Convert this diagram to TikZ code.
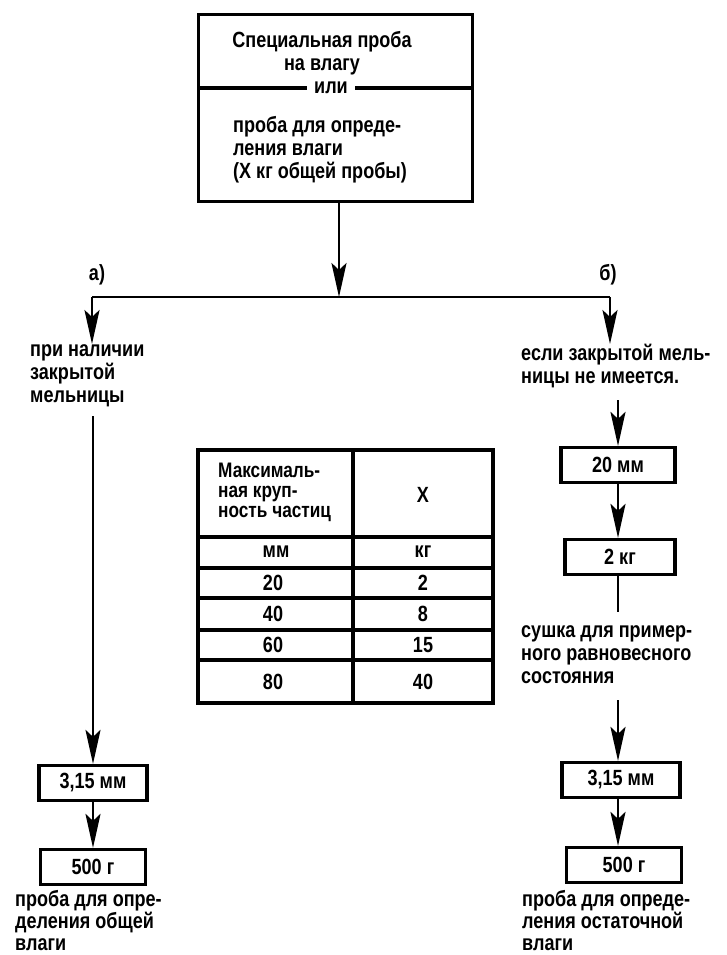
\documentclass[tikz,border=0pt]{standalone}
\usepackage{fontspec}
\newfontfamily\diagfont{Liberation Sans}[FakeStretch=0.82]
\usetikzlibrary{arrows.meta, positioning, calc}

\tikzset{
  sieve/.style={draw, line width=3.2pt, minimum height=35, inner sep=0},
  note/.style={align=left, anchor=north west, inner sep=0},
  flow/.style={line width=2.6pt, -{Stealth[length=34pt,width=15pt,inset=7pt]}},
  rule/.style={line width=2.6pt},
  grid/.style={line width=3.2pt},
}

\begin{document}
\begin{tikzpicture}[x=1pt,y=-1pt,font=\diagfont\bfseries\fontsize{22}{23}\selectfont]
  \useasboundingbox (0,0) rectangle (726,955);

  % Source sample box
  \node[draw, line width=3.2pt, minimum width=274, minimum height=187, anchor=north west] (src) at (197,13) {};
  \draw[grid] (src.west |- 0,88) -- (src.east |- 0,88);
  \node[fill=white, inner xsep=7pt, inner ysep=3pt] (ili) at (331,88) {или};
  \node[align=center] (srctitle) at (322,53) {Специальная проба\\на влагу};
  \node[note] (srcbody) at (233,116) {проба для опреде-\\ления влаги\\(X кг общей пробы)};

  % Fork into two ways
  \coordinate (fork) at (339,297);
  \coordinate (forkL) at (92,297);
  \coordinate (forkR) at (610,297);
  \draw[flow] (fork |- src.south) -- (fork);
  \draw[rule] (forkL) -- (forkR);
  \node (a) at (97,275) {а)};
  \node (b) at (608,275) {б)};

  % Left way: closed mill
  \node[note] (withmill) at (30,344) {при наличии\\закрытой\\мельницы};
  \draw[flow] (forkL) -- (forkL |- withmill.north);
  \coordinate (Ltop) at (93,416);
  \node[sieve, minimum width=108] (L315) at (93,783) {3,15 мм};
  \node[sieve, minimum width=105] (L500) at (93,867) {500 г};
  \draw[flow] (Ltop) -- (L315);
  \draw[flow] (L315) -- (L500);
  \node[note, anchor=south west, font=\diagfont\bfseries\fontsize{22}{22}\selectfont] (Ltotal) at (15,951) {проба для опре-\\деления общей\\влаги};

  % Right way: no closed mill
  \node[note] (nomill) at (521,344) {если закрытой мель-\\ницы не имеется.};
  \draw[flow] (forkR) -- (forkR |- nomill.north);
  \coordinate (Rtop) at (618,400);
  \node[sieve, minimum width=114] (R20) at (618,465) {20 мм};
  \node[sieve, minimum width=110] (R2) at (620,557) {2 кг};
  \draw[flow] (Rtop) -- (R20);
  \draw[flow] (R20) -- (R20 |- R2.north);
  \coordinate (drytop) at (618,612);
  \draw[rule] (R2.south -| drytop) -- (drytop);
  \node[note] (dry) at (521,625) {сушка для пример-\\ного равновесного\\состояния};
  \coordinate (drybot) at (618,700);
  \node[sieve, minimum width=118] (R315) at (621,780) {3,15 мм};
  \node[sieve, minimum width=115] (R500) at (624,865) {500 г};
  \draw[flow] (drybot) -- (drybot |- R315.north);
  \draw[flow] (R315.south -| drybot) -- (drybot |- R500.north);
  \node[note, anchor=south west, font=\diagfont\bfseries\fontsize{22}{22}\selectfont] (Rrest) at (522,951) {проба для опреде-\\ления остаточной\\влаги};

  % Table of sample masses
  \draw[grid] (198,450) rectangle (493,703);
  \draw[grid] (353,450) -- (353,703);
  \foreach \y in {537,568,598,630,660}
    \draw[grid] (198,\y) -- (493,\y);
  \node[note, font=\diagfont\bfseries\fontsize{21}{20}\selectfont] (hdr) at (218,463) {Максималь-\\ная круп-\\ность частиц};
  \node (hdrX) at (423,495) {X};
  \node (unitmm) at (276,552) {мм};
  \node (unitkg) at (423,552) {кг};
  \foreach \mm/\kg/\y in {20/2/583,40/8/614,60/15/645,80/40/682} {
    \node at (273,\y) {\mm};
    \node at (423,\y) {\kg};
  }
\end{tikzpicture}
\end{document}
